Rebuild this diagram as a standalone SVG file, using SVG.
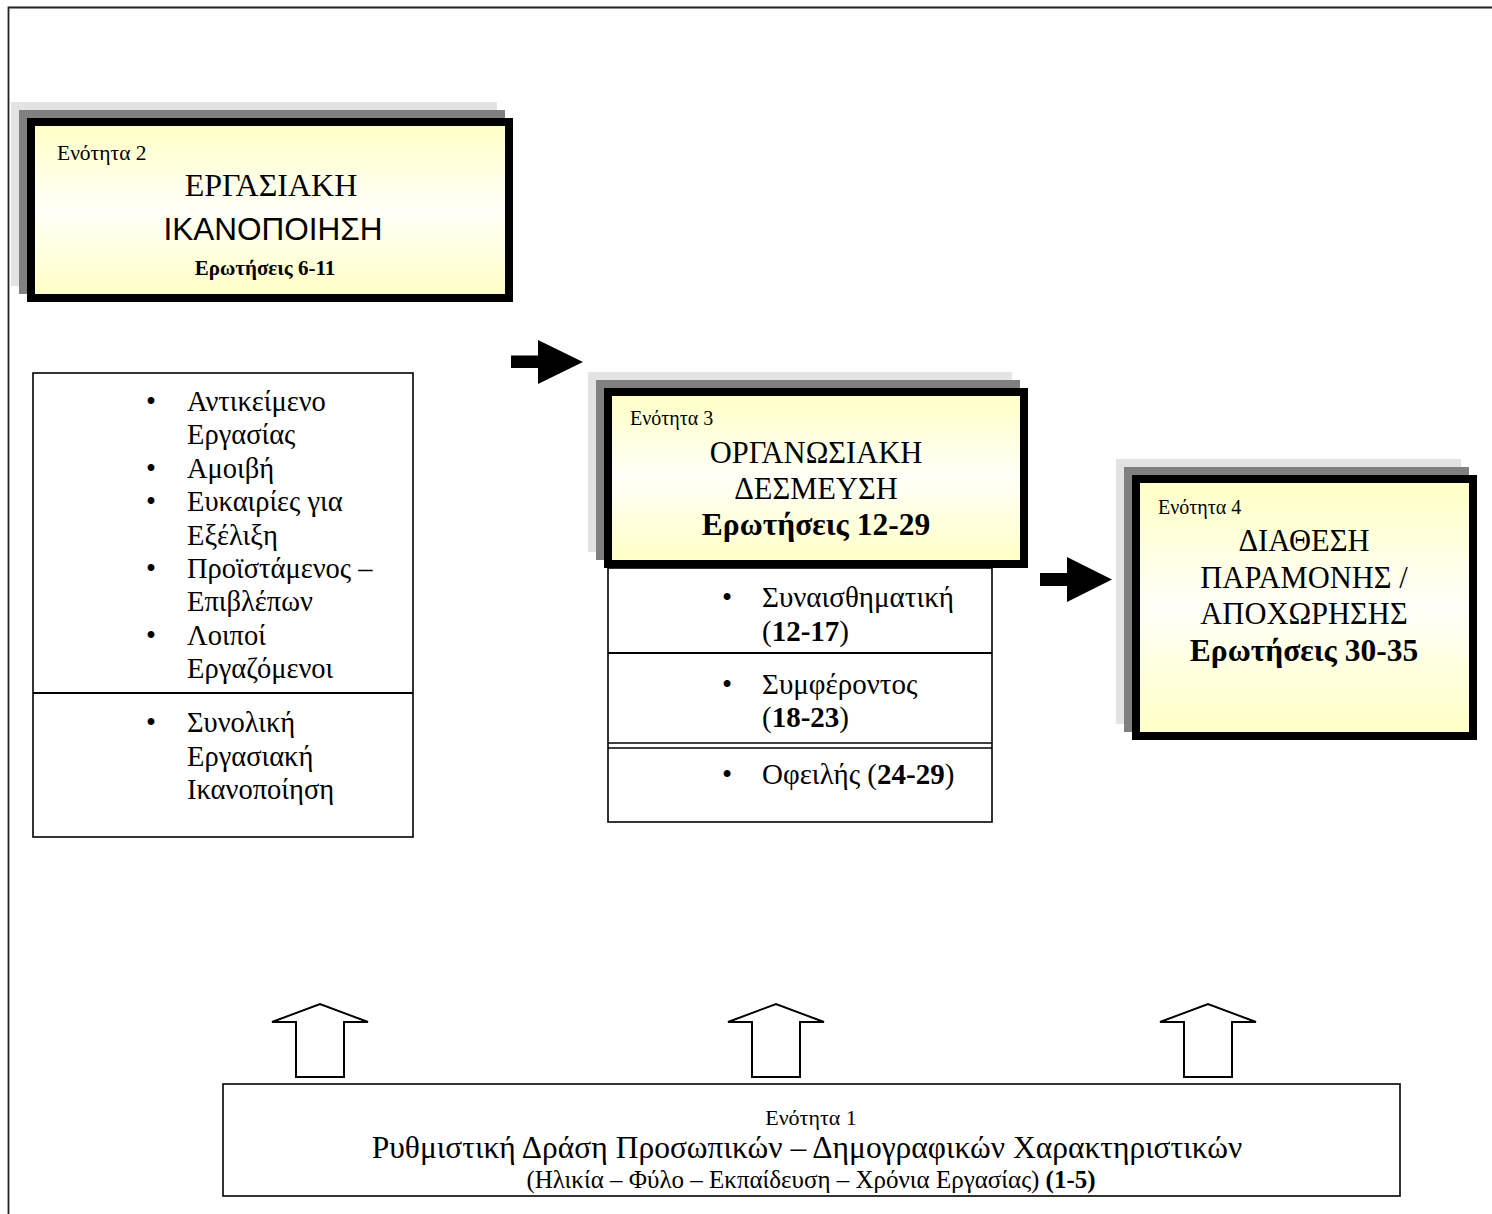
<svg xmlns="http://www.w3.org/2000/svg" width="1492" height="1214" viewBox="0 0 1492 1214">
  <defs>
    <linearGradient id="paleYellow" x1="0" y1="0" x2="0" y2="1">
      <stop offset="0" stop-color="#FFFFC4"/>
      <stop offset="0.5" stop-color="#FFFFF8"/>
      <stop offset="1" stop-color="#FFFFC4"/>
    </linearGradient>
    <style>
      .serif { font-family: "Liberation Serif", "Times New Roman", serif; fill: #000; }
      .sans { font-family: "Liberation Sans", Arial, sans-serif; fill: #000; }
      .label { font-size: 20px; }
      .title { font-size: 30.5px; }
      .heading { font-size: 31.5px; font-weight: bold; }
      .body { font-size: 28.5px; }
      .b { font-weight: bold; }
      .shadowLight { fill: #E3E3E3; }
      .shadowDark { fill: #808080; }
      .panel { fill: url(#paleYellow); stroke: #000; stroke-width: 8; }
      .frame { fill: #fff; stroke: #000; stroke-width: 1.6; }
      .solidArrow { fill: #000; }
      .hollowArrow { fill: #fff; stroke: #000; stroke-width: 2; stroke-linejoin: miter; }
    </style>
  </defs>

  <rect width="1492" height="1214" fill="#fff"/>
  <!-- page border -->
  <path d="M8.5 1214 V7.5 H1492" fill="none" stroke="#222" stroke-width="1.8"/>

  <!-- Section 2: job satisfaction -->
  <g id="node-section2">
    <rect class="shadowLight" x="11" y="102" width="486" height="184"/>
    <rect class="shadowDark" x="19" y="110" width="486" height="184"/>
    <rect class="panel" x="31" y="122" width="478" height="176"/>
    <text class="serif" font-size="21.5" x="57" y="160">Ενότητα 2</text>
    <text class="serif" font-size="32" x="271" y="196" text-anchor="middle">ΕΡΓΑΣΙΑΚΗ</text>
    <text class="sans" font-size="31.5" x="273" y="240" text-anchor="middle">ΙΚΑΝΟΠΟΙΗΣΗ</text>
    <text class="serif b" font-size="21" x="265" y="275" text-anchor="middle">Ερωτήσεις 6-11</text>
  </g>

  <!-- Section 2 facets -->
  <g id="node-facets2">
    <rect class="frame" x="33" y="373" width="380" height="464"/>
    <line x1="33" y1="693" x2="413" y2="693" stroke="#000" stroke-width="2"/>
    <g class="serif body">
      <text x="146" y="411">•</text>
      <text x="187" y="411">Αντικείμενο</text>
      <text x="187" y="444">Εργασίας</text>
      <text x="146" y="478">•</text>
      <text x="187" y="478">Αμοιβή</text>
      <text x="146" y="511">•</text>
      <text x="187" y="511">Ευκαιρίες για</text>
      <text x="187" y="545">Εξέλιξη</text>
      <text x="146" y="578">•</text>
      <text x="187" y="578">Προϊστάμενος –</text>
      <text x="187" y="611">Επιβλέπων</text>
      <text x="146" y="645">•</text>
      <text x="187" y="645">Λοιποί</text>
      <text x="187" y="678">Εργαζόμενοι</text>
      <text x="146" y="732">•</text>
      <text x="187" y="732">Συνολική</text>
      <text x="187" y="766">Εργασιακή</text>
      <text x="187" y="799">Ικανοποίηση</text>
    </g>
  </g>

  <!-- Section 3: organisational commitment -->
  <g id="node-section3">
    <rect class="shadowLight" x="588" y="372" width="424" height="180"/>
    <rect class="shadowDark" x="596" y="380" width="424" height="180"/>
    <rect class="panel" x="608" y="392" width="416" height="172"/>
    <text class="serif label" x="630" y="425">Ενότητα 3</text>
    <text class="serif title" x="816" y="463" text-anchor="middle">ΟΡΓΑΝΩΣΙΑΚΗ</text>
    <text class="serif title" x="816" y="499" text-anchor="middle">ΔΕΣΜΕΥΣΗ</text>
    <text class="serif heading" x="816" y="535" text-anchor="middle">Ερωτήσεις 12-29</text>
  </g>

  <!-- Section 3 facets -->
  <g id="node-facets3">
    <rect class="frame" x="608" y="568" width="384" height="254"/>
    <line x1="608" y1="653" x2="992" y2="653" stroke="#000" stroke-width="2"/>
    <line x1="608" y1="743" x2="992" y2="743" stroke="#000" stroke-width="1.5"/>
    <line x1="608" y1="748" x2="992" y2="748" stroke="#000" stroke-width="1.5"/>
    <g class="serif" font-size="29">
      <text x="722" y="607">•</text>
      <text x="762" y="607">Συναισθηματική</text>
      <text x="762" y="641">(<tspan class="b">12-17</tspan>)</text>
      <text x="722" y="694">•</text>
      <text x="762" y="694">Συμφέροντος</text>
      <text x="762" y="727">(<tspan class="b">18-23</tspan>)</text>
      <text x="722" y="784">•</text>
      <text x="762" y="784">Οφειλής (<tspan class="b">24-29</tspan>)</text>
    </g>
  </g>

  <!-- Section 4: intention to stay / leave -->
  <g id="node-section4">
    <rect class="shadowLight" x="1116" y="459" width="345" height="265"/>
    <rect class="shadowDark" x="1124" y="467" width="345" height="265"/>
    <rect class="panel" x="1136" y="479" width="337" height="257"/>
    <text class="serif label" x="1158" y="514">Ενότητα 4</text>
    <text class="serif title" x="1304" y="551" text-anchor="middle">ΔΙΑΘΕΣΗ</text>
    <text class="serif title" x="1304" y="588" text-anchor="middle">ΠΑΡΑΜΟΝΗΣ /</text>
    <text class="serif title" x="1304" y="624" text-anchor="middle">ΑΠΟΧΩΡΗΣΗΣ</text>
    <text class="serif heading" x="1304" y="661" text-anchor="middle">Ερωτήσεις 30-35</text>
  </g>

  <!-- Section 1: moderating personal / demographic characteristics -->
  <g id="node-section1">
    <rect class="frame" x="223" y="1084" width="1177" height="112" stroke-width="2"/>
    <text class="serif" font-size="22" x="811" y="1125" text-anchor="middle">Ενότητα 1</text>
    <text class="serif" font-size="31.5" x="807" y="1158" text-anchor="middle">Ρυθμιστική Δράση Προσωπικών – Δημογραφικών Χαρακτηριστικών</text>
    <text class="serif" font-size="25" x="811" y="1188" text-anchor="middle">(Ηλικία – Φύλο – Εκπαίδευση – Χρόνια Εργασίας) <tspan class="b">(1-5)</tspan></text>
  </g>

  <!-- connectors -->
  <g id="connectors">
    <polygon class="solidArrow" points="511,355.5 538,355.5 538,340 583,362 538,384 538,368 511,368"/>
    <polygon class="solidArrow" points="1040,573 1067,573 1067,557 1112,579.5 1067,602 1067,586 1040,586"/>
    <polygon class="hollowArrow" points="296,1077 296,1022 272,1022 320,1004 368,1022 344,1022 344,1077"/>
    <polygon class="hollowArrow" points="752,1077 752,1022 728,1022 776,1004 824,1022 800,1022 800,1077"/>
    <polygon class="hollowArrow" points="1184,1077 1184,1022 1160,1022 1208,1004 1256,1022 1232,1022 1232,1077"/>
  </g>
</svg>
